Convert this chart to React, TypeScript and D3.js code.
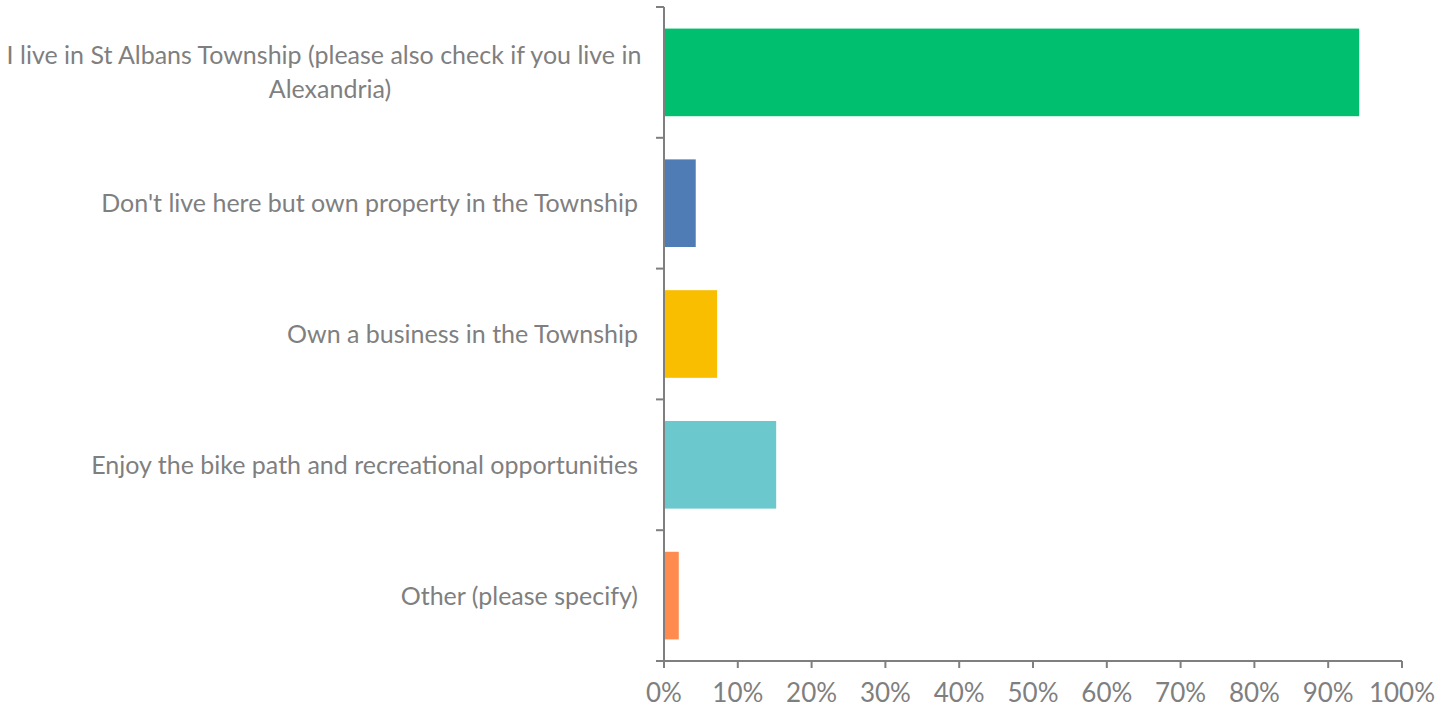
import { useEffect, useRef } from 'react';
import * as d3 from 'd3';

const categories = [
  ['I live in St Albans Township (please also check if you live in', 'Alexandria)'],
  ["Don't live here but own property in the Township"],
  ['Own a business in the Township'],
  ['Enjoy the bike path and recreational opportunities'],
  ['Other (please specify)'],
];
const values = [0.942, 0.043, 0.072, 0.152, 0.02];
const colors = ['#00BF6F', '#507CB6', '#F9BE00', '#6BC8CD', '#FF8B4F'];
const ticks = [0, 0.1, 0.2, 0.3, 0.4, 0.5, 0.6, 0.7, 0.8, 0.9, 1];

const W = 1441;
const H = 708;
const FONT = 'Lato, "Open Sans", sans-serif';
const GRAY = '#7f7f7f';

export default function App() {
  const ref = useRef<SVGSVGElement>(null);

  useEffect(() => {
    if (!ref.current) return;
    const svg = d3.select(ref.current);
    svg.selectAll('*').remove();

    const left = 664;
    const right = 1402;
    const top = 7;
    const bottom = 661;

    const x = d3.scaleLinear().domain([0, 1]).range([left, right]);
    const y = d3
      .scaleBand<number>()
      .domain(d3.range(values.length))
      .range([top, bottom])
      .paddingInner(0.33)
      .paddingOuter(0.165);

    const step = (bottom - top) / values.length;

    // bars
    svg
      .append('g')
      .selectAll('rect')
      .data(values)
      .join('rect')
      .attr('x', x(0))
      .attr('y', (_, i) => y(i)!)
      .attr('width', (d) => x(d) - x(0))
      .attr('height', y.bandwidth())
      .attr('fill', (_, i) => colors[i]);

    // y axis line + ticks at band boundaries
    const yAxis = svg.append('g').attr('stroke', GRAY).attr('stroke-width', 2);
    yAxis
      .append('line')
      .attr('x1', left)
      .attr('x2', left)
      .attr('y1', top)
      .attr('y2', bottom);
    yAxis
      .selectAll('line.tick')
      .data(d3.range(values.length + 1))
      .join('line')
      .attr('class', 'tick')
      .attr('x1', left - 8)
      .attr('x2', left)
      .attr('y1', (i) => top + i * step)
      .attr('y2', (i) => top + i * step);

    // x axis
    const xAxis = svg.append('g').attr('stroke', GRAY).attr('stroke-width', 2);
    xAxis
      .append('line')
      .attr('x1', left - 8)
      .attr('x2', right)
      .attr('y1', bottom)
      .attr('y2', bottom);
    xAxis
      .selectAll('line.tick')
      .data(ticks)
      .join('line')
      .attr('class', 'tick')
      .attr('x1', (d) => x(d))
      .attr('x2', (d) => x(d))
      .attr('y1', bottom)
      .attr('y2', bottom + 7);

    svg
      .append('g')
      .selectAll('text')
      .data(ticks)
      .join('text')
      .attr('x', (d) => x(d))
      .attr('y', bottom + 41)
      .attr('text-anchor', 'middle')
      .attr('font-family', FONT)
      .attr('font-size', 26)
      .attr('fill', GRAY)
      .text((d) => `${Math.round(d * 100)}%`);

    // category labels
    const labels = svg.append('g').attr('font-family', FONT).attr('font-size', 25).attr('fill', GRAY);
    categories.forEach((lines, i) => {
      const cy = y(i)! + y.bandwidth() / 2;
      const lh = 34;
      const t = labels
        .append('text')
        .attr('y', cy - ((lines.length - 1) * lh) / 2 + 9);
      lines.forEach((ln, j) => {
        const isWrap = lines.length > 1;
        t.append('tspan')
          .attr('x', isWrap ? 324 + j * 6 : 638)
          .attr('dy', j === 0 ? 0 : lh)
          .attr('text-anchor', isWrap ? 'middle' : 'end')
          .text(ln);
      });
    });
  }, []);

  return (
    <svg
      ref={ref}
      width={W}
      height={H}
      viewBox={`0 0 ${W} ${H}`}
      style={{ position: 'absolute', left: 0, top: 0, background: '#fff' }}
    />
  );
}
